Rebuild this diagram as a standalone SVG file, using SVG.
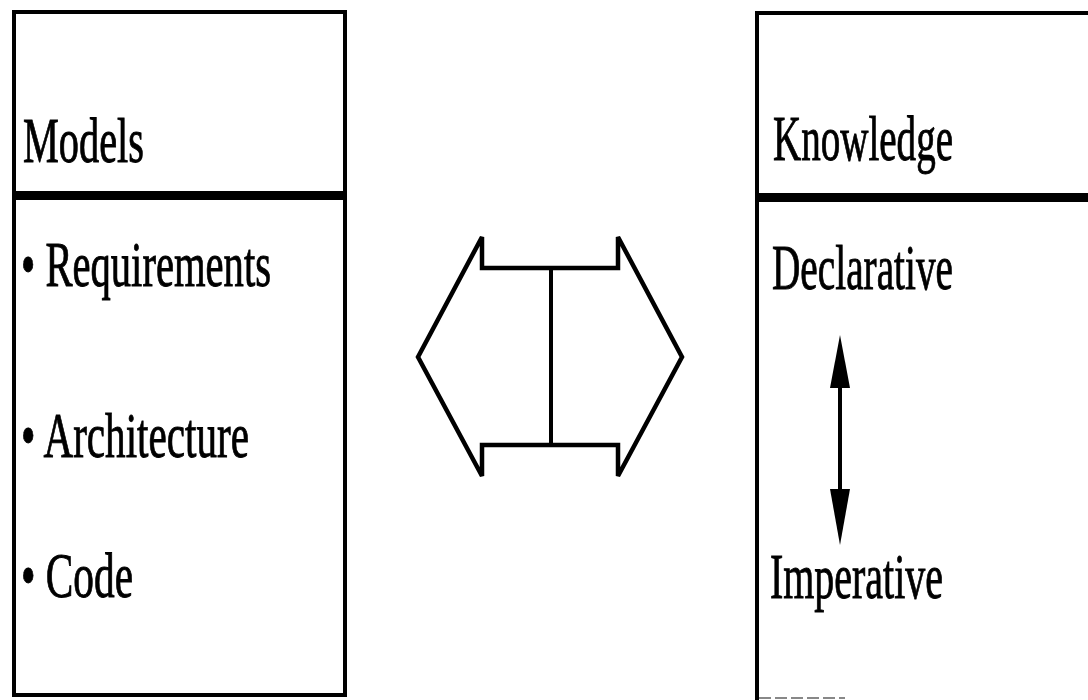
<svg xmlns="http://www.w3.org/2000/svg" width="1088" height="700" viewBox="0 0 1088 700">
<style>
.box{fill:none;stroke:#000;stroke-width:4}
.sep{fill:#000}
.t{font-family:"Liberation Serif","Times New Roman",serif;font-size:64px;fill:#000;stroke:#000;stroke-width:0.9}
.shape{fill:none;stroke:#000;stroke-width:4.5;stroke-linejoin:miter}
.ln{stroke:#000;stroke-width:4}
</style>
<rect width="1088" height="700" fill="#fff"/>
<g id="models">
<rect class="box" x="14" y="12" width="331" height="683"/>
<rect class="sep" x="12" y="191" width="335" height="9"/>
<text class="t" x="23" y="162" textLength="121" lengthAdjust="spacingAndGlyphs">Models</text>
<text class="t" x="21" y="286" textLength="250" lengthAdjust="spacingAndGlyphs">• Requirements</text>
<text class="t" x="21" y="457" textLength="228" lengthAdjust="spacingAndGlyphs">• Architecture</text>
<text class="t" x="21" y="597" textLength="112" lengthAdjust="spacingAndGlyphs">• Code</text>
</g>
<g id="knowledge">
<path class="box" d="M1090,13 H757 V700"/>
<path d="M759,698 H845" stroke="#888" stroke-width="2" stroke-dasharray="12,4"/>
<rect class="sep" x="755" y="193" width="335" height="9"/>
<text class="t" x="773" y="160" textLength="180" lengthAdjust="spacingAndGlyphs">Knowledge</text>
<text class="t" x="772" y="289" textLength="181" lengthAdjust="spacingAndGlyphs">Declarative</text>
<text class="t" x="770" y="598" textLength="173" lengthAdjust="spacingAndGlyphs">Imperative</text>
</g>
<g id="exchange">
<polygon class="shape" points="482,237 482,268 618,268 618,237 682,357 618,476 618,445 482,445 482,476 418,357"/>
<line class="ln" x1="551" y1="268" x2="551" y2="445"/>
</g>
<g id="connectors">
<line class="ln" x1="840" y1="385" x2="840" y2="492"/>
<polygon points="840,335 850,388 830,388" fill="#000"/>
<polygon points="840,545 850,489 830,489" fill="#000"/>
</g>
</svg>
